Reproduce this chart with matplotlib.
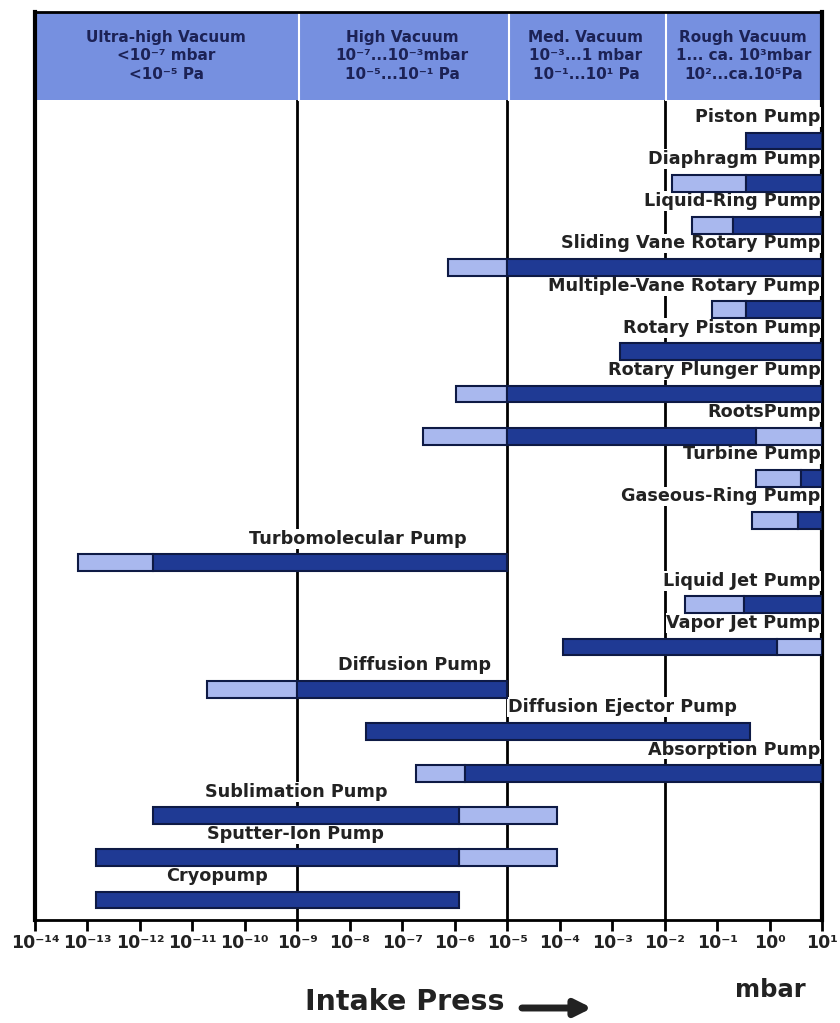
import matplotlib
matplotlib.use("Agg")
import matplotlib.pyplot as plt
import matplotlib.transforms as mtransforms
from matplotlib.patches import Rectangle
import numpy as np

# ---------------- data ----------------
pumps = [
    "Piston Pump", "Diaphragm Pump", "Liquid-Ring Pump", "Sliding Vane Rotary Pump",
    "Multiple-Vane Rotary Pump", "Rotary Piston Pump", "Rotary Plunger Pump", "RootsPump",
    "Turbine Pump", "Gaseous-Ring Pump", "Turbomolecular Pump", "Liquid Jet Pump",
    "Vapor Jet Pump", "Diffusion Pump", "Diffusion Ejector Pump", "Absorption Pump",
    "Sublimation Pump", "Sputter-Ion Pump", "Cryopump",
]
nan = np.nan
# light (extended range) segment on the low-pressure side: from light_lo to dark_lo
light_lo = [nan, 0.014, 0.034, 7.5e-7, 0.08, nan, 1.05e-6, 2.5e-7, 0.56, 0.46,
            6.6e-14, 0.024, nan, 1.9e-11, nan, 1.8e-7, nan, nan, nan]
dark_lo = [0.35, 0.35, 0.2, 1e-5, 0.35, 1.4e-3, 1e-5, 1e-5, 4.0, 3.5,
           1.8e-12, 0.32, 1.15e-4, 1e-9, 2e-8, 1.6e-6, 1.8e-12, 1.45e-13, 1.45e-13]
dark_hi = [10, 10, 10, 10, 10, 10, 10, 0.56, 10, 10,
           1e-5, 10, 1.4, 1e-5, 0.42, 10, 1.2e-6, 1.2e-6, 1.2e-6]
# light segment on the high-pressure side: from dark_hi to light_hi
light_hi = [nan, nan, nan, nan, nan, nan, nan, 10, nan, nan,
            nan, nan, 10, nan, nan, nan, 9e-5, 9e-5, nan]

regions = ["Ultra-high Vacuum\n<10⁻⁷ mbar\n<10⁻⁵ Pa",
           "High Vacuum\n10⁻⁷...10⁻³mbar\n10⁻⁵...10⁻¹ Pa",
           "Med. Vacuum\n10⁻³...1 mbar\n10⁻¹...10¹ Pa",
           "Rough Vacuum\n1... ca. 10³mbar\n10²...ca.10⁵Pa"]
region_edges = [1e-14, 1e-9, 1e-5, 1e-2, 10]

tick_exps = list(range(-14, 2))
sup = str.maketrans("-0123456789", "⁻⁰¹²³⁴⁵⁶⁷⁸⁹")
tick_labels = ["10" + str(e).translate(sup) for e in tick_exps]

# ---------------- layout (label anchors) ----------------
label_layout = {
    "Turbomolecular Pump": (1.7e-6, "right"),
    "Diffusion Pump": (5e-6, "right"),
    "Diffusion Ejector Pump": (1.02e-5, "left"),
    "Sublimation Pump": (1.75e-11, "left"),
    "Sputter-Ion Pump": (1.9e-11, "left"),
    "Cryopump": (3.2e-12, "left"),
}

DARK = "#1f3a94"
LIGHT = "#a9b8ee"
EDGE = "#0e1a45"
HEAD = "#7690e0"
TXT = "#222222"

W, H = 840, 1023
fig = plt.figure(figsize=(W / 100, H / 100), dpi=100)
ax_l, ax_r, ax_t, ax_b = 35, 822, 12, 920
ax = fig.add_axes([ax_l / W, 1 - ax_b / H, (ax_r - ax_l) / W, (ax_b - ax_t) / H])
ax.set_xscale("log")
ax.set_xlim(1e-14, 10)
row0, dy = 141, 42.17
ax.set_ylim((ax_b - row0) / dy, (ax_t - row0) / dy)

head_bot = 1 - (100 - ax_t) / (ax_b - ax_t)
trans = mtransforms.blended_transform_factory(ax.transData, ax.transAxes)

# header band
for i, txt in enumerate(regions):
    x0, x1 = region_edges[i], region_edges[i + 1]
    ax.add_patch(Rectangle((x0, head_bot), x1 - x0, 1 - head_bot, transform=trans,
                           facecolor=HEAD, edgecolor="none", zorder=2))
    xc = 10 ** ((np.log10(x0) + np.log10(x1)) / 2)
    ax.text(xc, (1 + head_bot) / 2, txt, transform=trans, ha="center", va="center",
            fontsize=11, fontweight="bold", color="#1c2255", linespacing=1.3,
            zorder=3)
for xe in region_edges[1:-1]:
    ax.plot([xe * 1.08, xe * 1.08], [head_bot, 1], transform=trans, color="white",
            lw=1.5, zorder=2.5)
    ax.plot([xe, xe], [0, head_bot], transform=trans, color="black", lw=2, zorder=1)

# bars
bh = 0.4
for i, name in enumerate(pumps):
    if not np.isnan(light_lo[i]):
        ax.barh(i, dark_lo[i] - light_lo[i], left=light_lo[i], height=bh,
                color=LIGHT, edgecolor=EDGE, linewidth=1.5, zorder=3)
    if not np.isnan(light_hi[i]):
        ax.barh(i, light_hi[i] - dark_hi[i], left=dark_hi[i], height=bh,
                color=LIGHT, edgecolor=EDGE, linewidth=1.5, zorder=3)
    ax.barh(i, dark_hi[i] - dark_lo[i], left=dark_lo[i], height=bh,
            color=DARK, edgecolor=EDGE, linewidth=1.5, zorder=3.2)
    lx, ha = label_layout.get(name, (9.3, "right"))
    ax.text(lx, i - 0.57, name, ha=ha, va="center", fontsize=12.7,
            fontweight="bold", color=TXT, zorder=2.8,
            bbox=dict(facecolor="white", edgecolor="none", pad=0.6))

# axes styling
ax.set_yticks([])
ax.set_xticks([10.0 ** e for e in tick_exps])
ax.set_xticklabels(tick_labels, fontsize=12.5, fontweight="bold", color=TXT)
ax.xaxis.set_minor_locator(matplotlib.ticker.NullLocator())
ax.tick_params(axis="x", direction="out", length=8, width=2, pad=2)
for s in ["left", "right"]:
    ax.spines[s].set_linewidth(3)
for s in ["top", "bottom"]:
    ax.spines[s].set_linewidth(2)

# bottom annotations
fig.text(305 / W, 1 - 1002 / H, "Intake Press", ha="left", va="center",
         fontsize=20.5, fontweight="bold", color=TXT)
ax.annotate("", xy=(592, H - 1008), xytext=(522, H - 1008),
            xycoords="figure pixels", textcoords="figure pixels",
            arrowprops=dict(arrowstyle="-|>", lw=5, color=TXT, mutation_scale=24,
                            shrinkA=0, shrinkB=0))
fig.text(770 / W, 1 - 990 / H, "mbar", ha="center", va="center",
         fontsize=17.5, fontweight="bold", color=TXT)

fig.savefig("out.png", dpi=100)
